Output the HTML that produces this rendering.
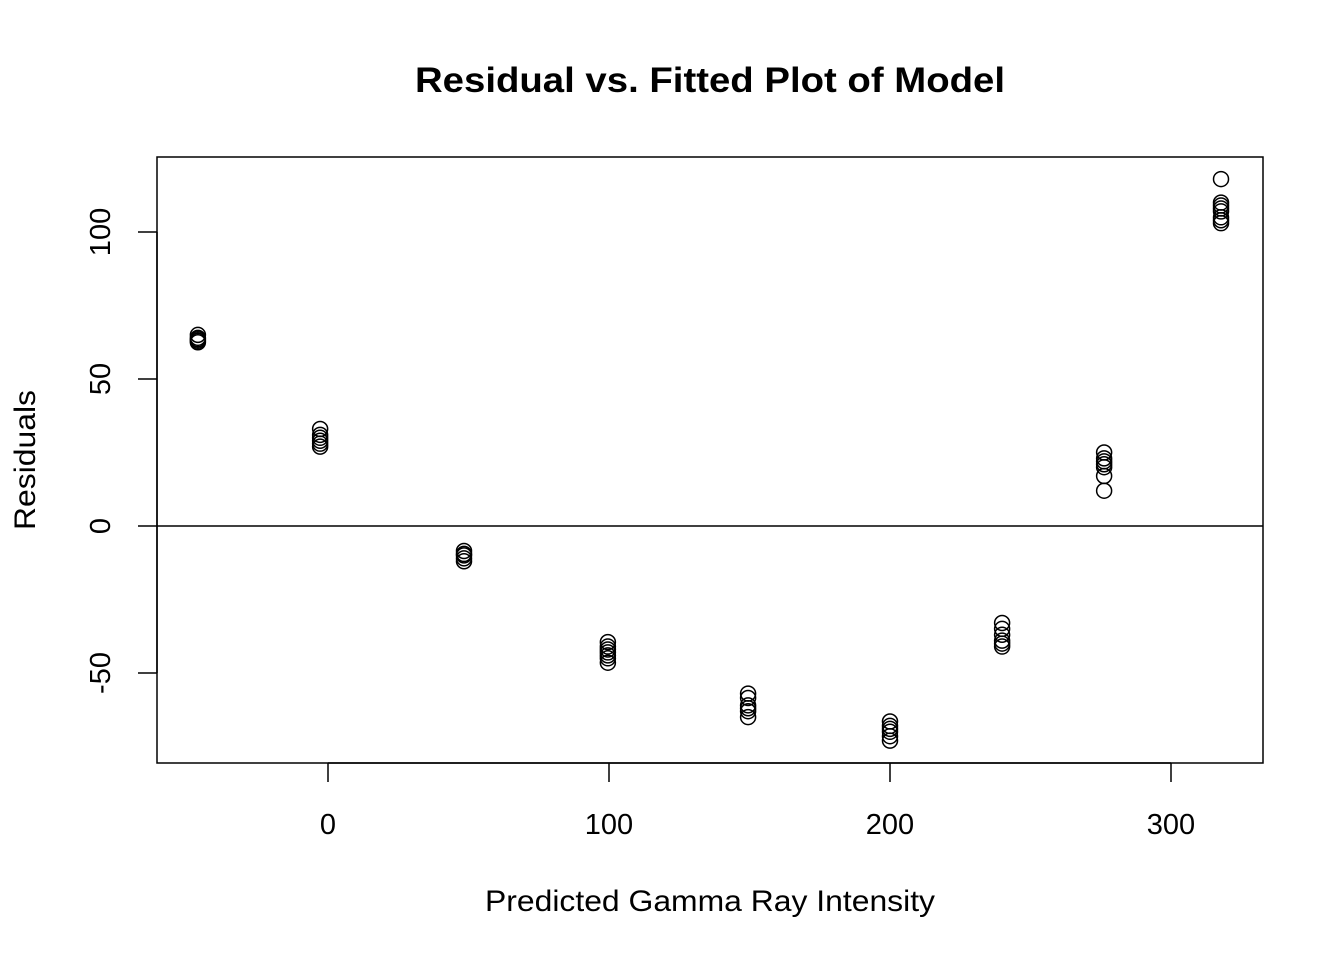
<!DOCTYPE html>
<html><head><meta charset="utf-8"><style>
body{margin:0;background:#fff;}
svg text{font-family:"Liberation Sans",Arial,sans-serif;}
</style></head><body>
<svg id="chart" width="1344" height="960" xmlns="http://www.w3.org/2000/svg">
<text x="710" y="92" text-anchor="middle" font-size="35" font-weight="bold" textLength="590" lengthAdjust="spacingAndGlyphs">Residual vs. Fitted Plot of Model</text>
<rect x="157" y="157" width="1106" height="606" fill="none" stroke="#000" stroke-width="1.5"/>
<text x="710" y="911" text-anchor="middle" font-size="30" textLength="450" lengthAdjust="spacingAndGlyphs">Predicted Gamma Ray Intensity</text>
<text transform="translate(35,460) rotate(-90)" text-anchor="middle" font-size="30" textLength="140" lengthAdjust="spacingAndGlyphs">Residuals</text>
<g id="axes"></g>
<g id="points"></g>
</svg>
<script>
const groupX = [-46.3, -2.8, 48.4, 99.6, 149.5, 200, 239.9, 276.2, 317.8];
const groupResiduals = [
 [65, 64, 63.5, 63, 62.5],
 [33, 31, 30, 29, 28, 27],
 [-8.5, -9.5, -10, -11, -12],
 [-39.5, -41, -42, -43, -44, -45, -46.5],
 [-57, -58.5, -61, -62, -63, -65],
 [-66.5, -68, -69, -70, -71.5, -73],
 [-33, -35, -37, -39, -40, -41],
 [25, 23, 22, 21, 20, 17, 12],
 [118, 110, 109, 108, 107, 105, 104, 103]
];
const xTicks = [0, 100, 200, 300];
const yTicks = [-50, 0, 50, 100];
const NS = "http://www.w3.org/2000/svg";
function sx(v){ return 328 + v * 2.81; }
function sy(v){ return 526 - v * 2.94; }
function mk(tag, attrs, parent){
  const e = document.createElementNS(NS, tag);
  for (const k in attrs) e.setAttribute(k, attrs[k]);
  parent.appendChild(e); return e;
}
const axes = document.getElementById('axes');
const pts = document.getElementById('points');
const zl = mk('line', {x1:157, x2:1263, y1:sy(0), y2:sy(0), stroke:'#000', 'stroke-width':1.5}, axes);


const xa = mk('line', {x1:sx(xTicks[0]), x2:sx(xTicks[xTicks.length-1]), y1:763, y2:763, stroke:'#000', 'stroke-width':1.5}, axes);


xTicks.forEach(t => {
  const l = mk('line', {x1:sx(t), x2:sx(t), y1:763, y2:782, stroke:'#000', 'stroke-width':1.5}, axes);
  
  
  const tx = mk('text', {x:sx(t), y:834, 'text-anchor':'middle', 'font-size':29}, axes);
  tx.textContent = t;
  
  
});
const ya = mk('line', {x1:157, x2:157, y1:sy(yTicks[0]), y2:sy(yTicks[yTicks.length-1]), stroke:'#000', 'stroke-width':1.5}, axes);


yTicks.forEach(t => {
  const l = mk('line', {x1:138, x2:157, y1:sy(t), y2:sy(t), stroke:'#000', 'stroke-width':1.5}, axes);
  
  
  const tx = mk('text', {x:0, y:0, 'text-anchor':'middle', 'font-size':29, transform:`translate(110,${sy(t)}) rotate(-90)`}, axes);
  tx.textContent = t;
  
  
});
groupX.forEach((gx, i) => {
  groupResiduals[i].forEach(r => {
    const c = mk('circle', {cx:sx(gx), cy:sy(r), r:7.5, fill:'none', stroke:'#000', 'stroke-width':1.5}, pts);
    
    
  });
});
</script>
</body></html>
